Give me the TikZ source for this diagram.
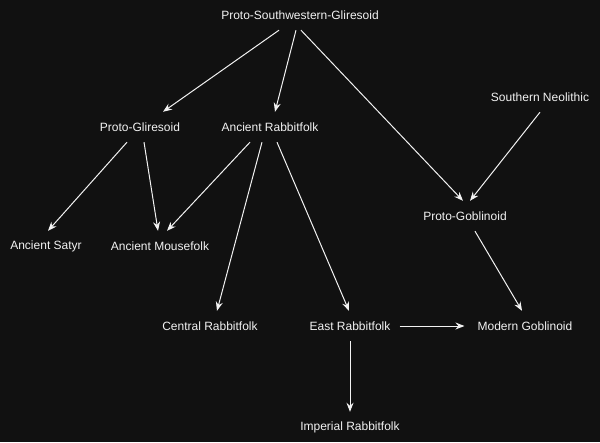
\documentclass[tikz,border=0pt]{standalone}
\usepackage{fontspec}
\setmainfont{Liberation Sans}
\usetikzlibrary{arrows.meta}
\definecolor{bg}{HTML}{111111}
\definecolor{fg}{HTML}{F2F2F2}
\begin{document}
\begin{tikzpicture}[x=1pt,y=-1pt,
  lbl/.style={text=fg,font=\fontsize{12}{14}\selectfont,inner xsep=0pt,inner ysep=0pt,minimum height=30pt,anchor=center},
  arr/.style={draw=fg,line width=1pt,-{Stealth[length=9pt,width=7pt,inset=3pt]}}]
\fill[bg] (0,0) rectangle (600,442);
\useasboundingbox (0,0) rectangle (600,442);
\node[lbl] (psg) at (300,15) {Proto-Southwestern-Gliresoid};
\node[lbl] (pg) at (140,127) {Proto-Gliresoid};
\node[lbl] (ar) at (270,127) {Ancient Rabbitfolk};
\node[lbl] (sn) at (540,97) {Southern Neolithic};
\node[lbl] (pgob) at (465,216) {Proto-Goblinoid};
\node[lbl] (sat) at (46,246) {Ancient Satyr};
\node[lbl] (am) at (160,246) {Ancient Mousefolk};
\node[lbl] (cr) at (210,326) {Central Rabbitfolk};
\node[lbl] (er) at (350,326) {East Rabbitfolk};
\node[lbl] (mg) at (525,326) {Modern Goblinoid};
\node[lbl] (ir) at (350,427) {Imperial Rabbitfolk};
\draw[arr] ([xshift=-21pt]psg.south) -- ([xshift=23pt]pg.north);
\draw[arr] ([xshift=-4pt]psg.south) -- ([xshift=5pt]ar.north);
\draw[arr] ([xshift=1pt]psg.south) -- ([xshift=-2pt]pgob.north);
\draw[arr] (sn.south) -- ([xshift=5pt]pgob.north);
\draw[arr] ([xshift=-13pt]pg.south) -- ([xshift=2pt]sat.north);
\draw[arr] ([xshift=4pt]pg.south) -- ([xshift=-2pt]am.north);
\draw[arr] ([xshift=-20pt]ar.south) -- ([xshift=7pt]am.north);
\draw[arr] ([xshift=-8pt]ar.south) -- ([xshift=7pt]cr.north);
\draw[arr] ([xshift=7pt]ar.south) -- ([xshift=-1pt]er.north);
\draw[arr] ([xshift=10pt]pgob.south) -- ([xshift=-3pt]mg.north);
\draw[arr] ([xshift=9pt]er.east) -- ([xshift=-13pt]mg.west);
\draw[arr] (er.south) -- (ir.north);
\end{tikzpicture}
\end{document}
